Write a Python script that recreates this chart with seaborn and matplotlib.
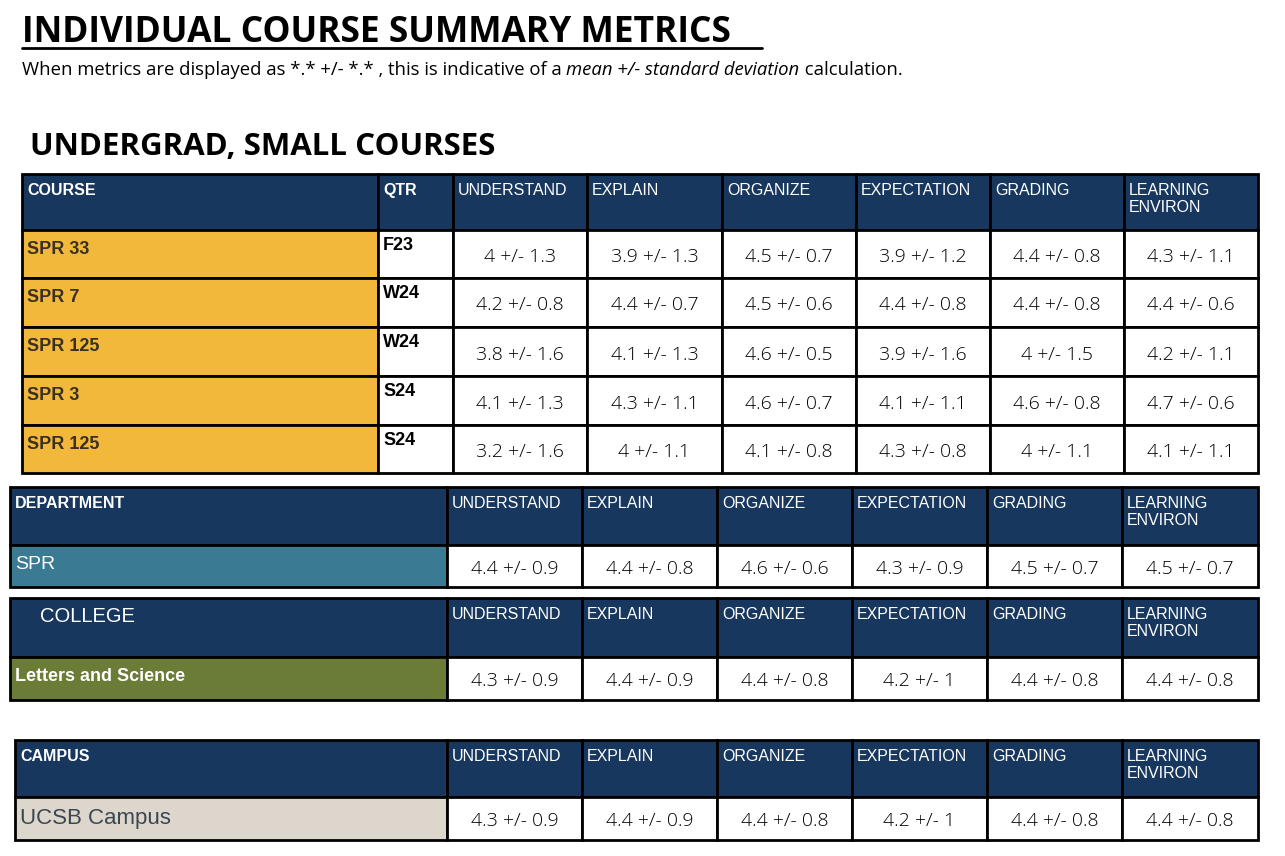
import matplotlib
matplotlib.use("Agg")
import matplotlib.pyplot as plt
import seaborn as sns
from matplotlib.patches import Rectangle

sns.set_theme(style="white")
plt.rcParams['font.family'] = ['Liberation Sans', 'DejaVu Sans']
plt.rcParams['text.color'] = 'black'

metrics = ["UNDERSTAND", "EXPLAIN", "ORGANIZE", "EXPECTATION", "GRADING", "LEARNING\nENVIRON"]
courses = ["SPR 33", "SPR 7", "SPR 125", "SPR 3", "SPR 125"]
quarters = ["F23", "W24", "W24", "S24", "S24"]
course_vals = [
    ["4 +/- 1.3", "3.9 +/- 1.3", "4.5 +/- 0.7", "3.9 +/- 1.2", "4.4 +/- 0.8", "4.3 +/- 1.1"],
    ["4.2 +/- 0.8", "4.4 +/- 0.7", "4.5 +/- 0.6", "4.4 +/- 0.8", "4.4 +/- 0.8", "4.4 +/- 0.6"],
    ["3.8 +/- 1.6", "4.1 +/- 1.3", "4.6 +/- 0.5", "3.9 +/- 1.6", "4 +/- 1.5", "4.2 +/- 1.1"],
    ["4.1 +/- 1.3", "4.3 +/- 1.1", "4.6 +/- 0.7", "4.1 +/- 1.1", "4.6 +/- 0.8", "4.7 +/- 0.6"],
    ["3.2 +/- 1.6", "4 +/- 1.1", "4.1 +/- 0.8", "4.3 +/- 0.8", "4 +/- 1.1", "4.1 +/- 1.1"],
]
dept_vals = ["4.4 +/- 0.9", "4.4 +/- 0.8", "4.6 +/- 0.6", "4.3 +/- 0.9", "4.5 +/- 0.7", "4.5 +/- 0.7"]
college_vals = ["4.3 +/- 0.9", "4.4 +/- 0.9", "4.4 +/- 0.8", "4.2 +/- 1", "4.4 +/- 0.8", "4.4 +/- 0.8"]
campus_vals = ["4.3 +/- 0.9", "4.4 +/- 0.9", "4.4 +/- 0.8", "4.2 +/- 1", "4.4 +/- 0.8", "4.4 +/- 0.8"]

NAVY = "#17375e"
ORANGE = "#f1b83b"
TEAL = "#3a7a93"
OLIVE = "#6a7c35"
BEIGE = "#ddd6cc"
VALFONT = "Open Sans"

fig = plt.figure(figsize=(12.85, 8.56), dpi=100)
ax = fig.add_axes([0, 0, 1, 1])
ax.set_xlim(0, 1285)
ax.set_ylim(856, 0)
ax.axis("off")
renderer = fig.canvas.get_renderer()


def cell(x0, x1, y0, y1, color, text="", tcolor="black", ha="left", va="top",
         size=11.5, weight="normal", family=None, pad=5, dy=9):
    ax.add_patch(Rectangle((x0, y0), x1 - x0, y1 - y0, facecolor=color,
                           edgecolor="black", lw=2))
    if not text:
        return
    if ha == "center":
        tx, ty, v = (x0 + x1) / 2, (y0 + y1) / 2 + 3, "center"
    else:
        tx, ty, v = x0 + pad, y0 + dy, va
    kw = dict(family=family) if family else {}
    ax.text(tx, ty, text, ha=ha, va=v, color=tcolor, fontsize=size,
            fontweight=weight, linespacing=1.15, **kw)


# titles
ax.text(22, 33, "INDIVIDUAL COURSE SUMMARY METRICS", fontsize=25.5, fontweight="bold",
        va="center", family="Open Sans")
ax.plot([22, 762], [48, 48], color="black", lw=2)

# subtitle pieces placed one after another
x = 22
for part, style in [("When metrics are displayed as *.* +/- *.* , this is indicative of a ", "normal"),
                    ("mean +/- standard deviation", "italic"),
                    (" calculation.", "normal")]:
    t = ax.text(x, 70, part, fontsize=13.3, va="center", family="Open Sans", style=style)
    bb = t.get_window_extent(renderer)
    x += bb.width

ax.text(30, 147, "UNDERGRAD, SMALL COURSES", fontsize=22.5, fontweight="bold",
        va="center", family="Open Sans")

# course table
mx = [453, 587, 722, 856, 990, 1124, 1258]
hy = [174, 230]
cell(22, 378, hy[0], hy[1], NAVY, "COURSE", "white", weight="bold")
cell(378, 453, hy[0], hy[1], NAVY, "QTR", "white", weight="bold")
for j, m in enumerate(metrics):
    cell(mx[j], mx[j + 1], hy[0], hy[1], NAVY, m, "white")
ry = [230, 278, 327, 376, 425, 473]
for i, (c, q) in enumerate(zip(courses, quarters)):
    cell(22, 378, ry[i], ry[i + 1], ORANGE, c, "#3a3020", size=13, weight="bold", dy=11)
    cell(378, 453, ry[i], ry[i + 1], "white", q, "black", size=13, weight="bold", dy=7)
    for j in range(6):
        cell(mx[j], mx[j + 1], ry[i], ry[i + 1], "white", course_vals[i][j],
             ha="center", size=14, family=VALFONT, weight="light")

# summary tables
sx = [447, 582, 717, 852, 987, 1122, 1258]


def summary(xl, y0, y1, y2, label, hlabel, rcolor, vals, lsize, lweight,
            ltcolor, hsize=11.5, hweight="bold", hpad=5):
    cell(xl, sx[0], y0, y1, NAVY, hlabel, "white", weight=hweight, size=hsize, pad=hpad)
    for j, m in enumerate(metrics):
        cell(sx[j], sx[j + 1], y0, y1, NAVY, m, "white")
    cell(xl, sx[0], y1, y2, rcolor, label, ltcolor, size=lsize, weight=lweight, dy=11)
    for j in range(6):
        cell(sx[j], sx[j + 1], y1, y2, "white", vals[j], ha="center", size=14,
             family=VALFONT, weight="light")


summary(10, 487, 545, 587, "SPR", "DEPARTMENT", TEAL, dept_vals, 14, "normal", "white")
summary(10, 598, 657, 700, "Letters and Science", "COLLEGE", OLIVE, college_vals,
        13, "bold", "white", hsize=14.5, hweight="normal", hpad=30)
summary(15, 740, 797, 840, "UCSB Campus", "CAMPUS", BEIGE, campus_vals,
        16, "normal", "#3a4650")

fig.savefig("out.png", dpi=100)
